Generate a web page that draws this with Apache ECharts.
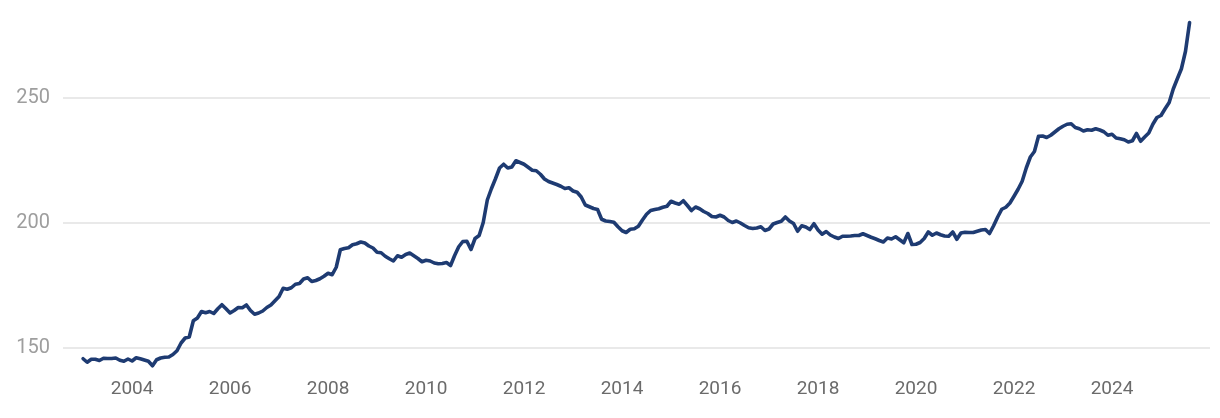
<!DOCTYPE html>
<html>
<head>
<meta charset="utf-8">
<script src="https://cdn.jsdelivr.net/npm/echarts@6/dist/echarts.min.js"></script>
<style>
  html, body { margin: 0; padding: 0; background: #ffffff; }
  #chart { width: 1220px; height: 418px; }
</style>
</head>
<body>
<div id="chart"></div>
<script>
// Monthly series, first value = January 2003
var startYear = 2003;
var values2003_2007 = [
  145.5, 144.1, 145.3, 145.3, 144.8, 145.7, 145.6, 145.6, 145.8, 144.9, 144.5, 145.4,
  144.6, 145.9, 145.5, 145.0, 144.5, 142.7, 145.1, 145.8, 146.1, 146.2, 147.2, 148.7,
  151.8, 153.8, 154.2, 160.7, 161.8, 164.4, 163.9, 164.4, 163.6, 165.5, 167.1, 165.5,
  163.8, 164.8, 166.0, 165.9, 167.0, 164.8, 163.3, 163.8, 164.6, 166.0, 167.0, 168.7,
  170.4, 173.7, 173.3, 173.9, 175.3, 175.6, 177.4, 177.9, 176.4, 176.8, 177.5, 178.5
];
var values2008_2012 = [
  179.7, 179.1, 182.1, 189.1, 189.6, 189.9, 191.1, 191.5, 192.2, 191.8, 190.6, 189.8,
  188.1, 187.9, 186.5, 185.5, 184.6, 186.7, 186.1, 187.2, 187.8, 186.7, 185.6, 184.3,
  184.9, 184.6, 183.8, 183.5, 183.6, 184.0, 182.8, 186.8, 190.3, 192.4, 192.5, 189.2,
  193.6, 194.8, 200.0, 209.0, 213.5, 217.5, 221.8, 223.3, 221.8, 222.2, 224.7, 224.0,
  223.3, 222.1, 220.9, 220.7, 219.3, 217.4, 216.4, 215.8, 215.2, 214.5, 213.6, 213.9
];
var values2013_2017 = [
  212.6, 212.1, 210.2, 207.0, 206.3, 205.6, 205.2, 201.3, 200.6, 200.4, 200.1, 198.3,
  196.7, 196.0, 197.3, 197.5, 198.5, 201.0, 203.3, 204.8, 205.2, 205.5, 206.1, 206.5,
  208.5, 207.8, 207.3, 208.7, 206.8, 204.8, 206.2, 205.5, 204.4, 203.6, 202.4, 202.2,
  202.9, 202.2, 200.8, 200.0, 200.6, 199.8, 198.8, 197.9, 197.6, 197.8, 198.3, 196.8,
  197.4, 199.4, 200.0, 200.5, 202.2, 200.6, 199.6, 196.5, 198.7, 198.2, 197.2, 199.5
];
var values2018_2022 = [
  197.0, 195.3, 196.4, 195.0, 194.2, 193.6, 194.5, 194.5, 194.6, 194.8, 194.8, 195.5,
  194.8, 194.1, 193.5, 192.8, 192.2, 193.8, 193.4, 194.3, 193.1, 191.9, 195.6, 191.2,
  191.3, 192.0, 193.6, 196.2, 194.9, 195.8, 195.1, 194.6, 194.5, 196.2, 193.3, 195.8,
  196.1, 196.0, 196.0, 196.5, 197.0, 197.2, 195.6, 198.7, 202.2, 205.3, 206.1, 207.8,
  210.5, 213.3, 216.5, 221.8, 226.2, 228.4, 234.5, 234.6, 234.0, 234.9, 236.2, 237.5
];
var values2023_2025 = [
  238.5, 239.3, 239.5, 238.0, 237.5, 236.6, 237.1, 236.9, 237.5, 237.0, 236.3, 234.9,
  235.3, 233.8, 233.5, 233.1, 232.2, 232.7, 235.6, 232.5, 234.2, 235.8, 239.3, 242.0,
  242.8, 245.5, 248.0, 253.4, 257.5, 261.5, 268.5, 280.0
];
var xTickYears = [2004, 2006, 2008, 2010, 2012, 2014, 2016, 2018, 2020, 2022, 2024];
var yTickValues = [150, 200, 250];

var values = [].concat(values2003_2007, values2008_2012, values2013_2017, values2018_2022, values2023_2025);
var seriesData = values.map(function (v, i) { return [startYear + i / 12, v]; });

var chart = echarts.init(document.getElementById('chart'), null, { renderer: 'canvas' });
chart.setOption({
  animation: false,
  backgroundColor: '#ffffff',
  grid: { left: 63, right: 10, top: 10, bottom: 45.5, containLabel: false },
  xAxis: {
    type: 'value',
    min: 2002.59,
    max: 2026.0,
    axisLine: { show: false },
    axisTick: { show: false, customValues: xTickYears },
    splitLine: { show: false },
    axisLabel: {
      customValues: xTickYears,
      color: '#6b6b6b',
      fontSize: 19,
      fontFamily: 'Roboto',
      margin: 7,
      formatter: function (v) { return String(Math.round(v)); }
    }
  },
  yAxis: {
    type: 'value',
    min: 140,
    max: 285,
    axisLine: { show: false },
    axisTick: { show: false, customValues: yTickValues },
    splitLine: { show: true, lineStyle: { color: '#e2e2e2', width: 1.5 } },
    axisLabel: {
      customValues: yTickValues,
      color: '#9e9e9e',
      fontSize: 20,
      fontFamily: 'Roboto',
      margin: 13
    }
  },
  series: [{
    type: 'line',
    data: seriesData,
    showSymbol: false,
    symbol: 'none',
    lineStyle: { color: '#1e3b72', width: 3.6, join: 'round', cap: 'round' },
    itemStyle: { color: '#1e3b72' },
    clip: false
  }]
});
</script>
</body>
</html>
